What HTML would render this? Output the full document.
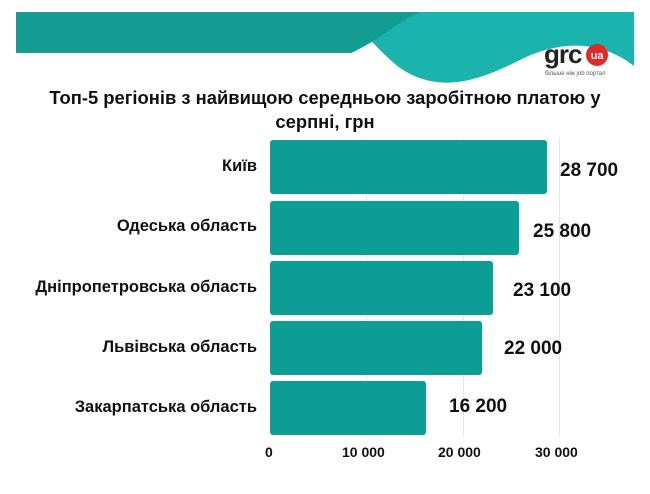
<!DOCTYPE html>
<html><head><meta charset="utf-8"><style>
body{margin:0;width:650px;height:494px;background:#fff;overflow:hidden;font-family:"Liberation Sans","DejaVu Sans",sans-serif;}
.t{position:absolute;font-weight:bold;color:#111;}
</style></head><body>
<svg width="650" height="494" style="position:absolute;left:0;top:0">
<path d="M330 12 L634 12 L634 66 C600 40 560 40 520 60 C480 80 440 95 400 68 C370 45 360 20 330 12 Z" fill="#1bb4ad"/>
<rect x="16" y="12" width="335" height="41" fill="#139d92"/>
<path d="M330 12 L420 12 C400 20 380 40 351 53 L330 53 Z" fill="#139d92"/>
<g stroke="#e6e6e6" stroke-width="1">
<line x1="366.5" y1="138" x2="366.5" y2="437"/><line x1="463.5" y1="138" x2="463.5" y2="437"/><line x1="559.5" y1="138" x2="559.5" y2="437"/>
</g>
<g fill="#0c9d94">
<rect x="270" y="140" width="277" height="54" rx="3"/>
<rect x="270" y="201" width="249" height="54" rx="3"/>
<rect x="270" y="261" width="223" height="54" rx="3"/>
<rect x="270" y="321" width="212" height="54" rx="3"/>
<rect x="270" y="381" width="156" height="54" rx="3"/>
</g>
<text x="544" y="63" font-family="Liberation Sans,sans-serif" font-weight="bold" font-size="26" fill="#222" letter-spacing="-1">grc</text>
<circle cx="597" cy="55" r="11" fill="#e02a2a"/>
<text x="597" y="59" text-anchor="middle" font-family="Liberation Sans,sans-serif" font-weight="bold" font-size="11" fill="#fff">ua</text>
<text x="545" y="75" font-family="Liberation Sans,sans-serif" font-size="6" fill="#555">більше ніж job портал</text>
</svg>
<div class="t" style="left:0;width:650px;text-align:center;top:86px;font-size:18.4px;line-height:24px">Топ-5 регіонів з найвищою середньою заробітною платою у<br>серпні, грн</div>
<div class="t" style="right:393px;top:157px;font-size:16.5px">Київ</div>
<div class="t" style="right:393px;top:217px;font-size:16.5px">Одеська область</div>
<div class="t" style="right:393px;top:278px;font-size:16.5px">Дніпропетровська область</div>
<div class="t" style="right:393px;top:338px;font-size:16.5px">Львівська область</div>
<div class="t" style="right:393px;top:398px;font-size:16.5px">Закарпатська область</div>
<div class="t" style="left:560px;top:160px;font-size:19px">28 700</div>
<div class="t" style="left:533px;top:221px;font-size:19px">25 800</div>
<div class="t" style="left:513px;top:280px;font-size:19px">23 100</div>
<div class="t" style="left:504px;top:338px;font-size:19px">22 000</div>
<div class="t" style="left:449px;top:396px;font-size:19px">16 200</div>
<div class="t" style="left:265px;top:444px;font-size:14px">0</div>
<div class="t" style="left:342px;top:444px;font-size:14px">10 000</div>
<div class="t" style="left:438px;top:444px;font-size:14px">20 000</div>
<div class="t" style="left:535px;top:444px;font-size:14px">30 000</div>
</body></html>
